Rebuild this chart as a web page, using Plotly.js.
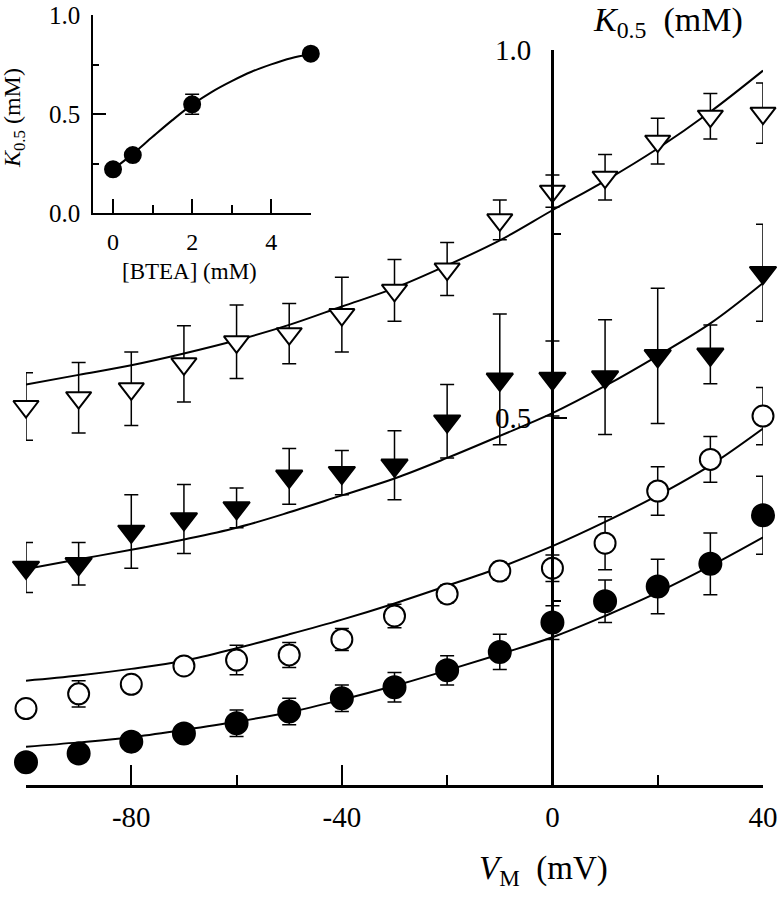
<!DOCTYPE html>
<html><head><meta charset="utf-8">
<script src="https://cdn.plot.ly/plotly-3.0.1.min.js"></script>
<style>body{margin:0;background:#fff}</style>
</head><body><div id="chart" style="width:784px;height:899px"></div>
<script>
// Main panel: K0.5 (mM) versus membrane voltage VM (mV)
const voltages = [-100,-90,-80,-70,-60,-50,-40,-30,-20,-10,0,10,20,30,40];
const openTri      = [0.515,0.527,0.539,0.573,0.603,0.614,0.640,0.673,0.702,0.769,0.808,0.827,0.876,0.910,0.914];
const openTriErr   = [0.046,0.048,0.050,0.052,0.050,0.041,0.051,0.042,0.036,0.027,0.022,0.031,0.031,0.031,0.041];
const filledTri    = [0.296,0.301,0.345,0.362,0.377,0.420,0.425,0.435,0.495,0.552,0.553,0.555,0.584,0.586,0.697];
const filledTriErr = [0.034,0.029,0.050,0.047,0.027,0.038,0.030,0.047,0.050,0.089,0.051,0.078,0.092,0.040,0.066];
const openCirc     = [0.104,0.124,0.137,0.162,0.170,0.177,0.198,0.230,0.260,0.291,0.295,0.329,0.400,0.443,0.502];
const openCircErr  = [0.010,0.018,0.010,0.010,0.020,0.017,0.015,0.016,0.012,0.012,0.018,0.036,0.033,0.031,0.039];
const filledCirc   = [0.031,0.043,0.059,0.070,0.084,0.100,0.118,0.133,0.156,0.181,0.221,0.250,0.270,0.301,0.367];
const filledCircErr= [0.012,0.012,0.012,0.012,0.018,0.018,0.018,0.020,0.020,0.024,0.023,0.029,0.037,0.042,0.053];

// fitted curves
const fitV = [-100,-90,-80,-70,-60,-50,-40,-30,-20,-10,0,10,20,30,40];
const fitOpenTri    = [0.545,0.558,0.571,0.587,0.605,0.626,0.651,0.676,0.707,0.741,0.782,0.822,0.866,0.916,0.972];
const fitFilledTri  = [0.294,0.307,0.320,0.334,0.350,0.371,0.394,0.417,0.445,0.475,0.506,0.543,0.584,0.628,0.683];
const fitOpenCirc   = [0.142,0.149,0.158,0.169,0.186,0.205,0.225,0.247,0.271,0.296,0.325,0.358,0.394,0.435,0.485];
const fitFilledCirc = [0.052,0.058,0.065,0.075,0.086,0.099,0.116,0.135,0.156,0.178,0.201,0.230,0.262,0.298,0.337];

// Inset: K0.5 versus [BTEA] (mM)
const btea     = [0,0.5,2,5];
const bteaK    = [0.222,0.294,0.550,0.805];
const bteaErr  = [0.010,0.010,0.050,0.010];
const bteaFitX = [0,0.5,1,1.5,2,2.5,3,3.5,4,4.5,5];
const bteaFitK = [0.222,0.300,0.386,0.470,0.548,0.613,0.667,0.714,0.751,0.782,0.803];

const FONT = 'Liberation Serif, Times New Roman, serif';
const W = 784, H = 899, ML = 26, MR = 20.5, MT = 10, MB = 114.3;
const PW = W - ML - MR, PH = H - MT - MB;
const px = x => (x - ML) / PW;            // pixel -> paper x
const py = y => (H - MB - y) / PH;        // pixel -> paper y

function errs(arr, w) {
  return {type:'data', array:arr, visible:true, color:'black', thickness:1.5, width:w};
}
function fitTrace(x, y, xa, ya) {
  return {x:x, y:y, xaxis:xa, yaxis:ya, mode:'lines', line:{color:'black', width:2, shape:'spline', smoothing:1}, hoverinfo:'skip', cliponaxis:false};
}
function markTrace(x, y, e, symbol, fill, size, xa, ya, w) {
  return {x:x, y:y, xaxis:xa, yaxis:ya, mode:'markers', cliponaxis:false,
    marker:{symbol:symbol, size:size, color:fill, line:{color:'black', width:2}},
    error_y: errs(e, w)};
}

const traces = [
  fitTrace(fitV, fitOpenTri, 'x', 'y'),
  fitTrace(fitV, fitFilledTri, 'x', 'y'),
  fitTrace(fitV, fitOpenCirc, 'x', 'y'),
  fitTrace(fitV, fitFilledCirc, 'x', 'y'),
  markTrace(voltages, openTri, openTriErr, 'triangle-down', 'white', 22, 'x', 'y', 7),
  markTrace(voltages, filledTri, filledTriErr, 'triangle-down', 'black', 23, 'x', 'y', 7),
  markTrace(voltages, openCirc, openCircErr, 'circle', 'white', 21, 'x', 'y', 7),
  markTrace(voltages, filledCirc, filledCircErr, 'circle', 'black', 22, 'x', 'y', 7),
  fitTrace(bteaFitX, bteaFitK, 'x2', 'y2'),
  markTrace(btea, bteaK, bteaErr, 'circle', 'black', 16, 'x2', 'y2', 7)
];

const yTop = (H - MB - 50) / PH; // 1.0 sits at pixel 50
const layout = {
  width:W, height:H,
  margin:{l:ML, r:MR, t:MT, b:MB, pad:0},
  paper_bgcolor:'white', plot_bgcolor:'rgba(0,0,0,0)',
  showlegend:false,
  font:{family:FONT, color:'black', size:28},
  xaxis:{domain:[0,1], range:[-100,40], anchor:'y', showline:true, linewidth:3, linecolor:'black',
    ticks:'inside', ticklen:20, tickwidth:2, tickcolor:'black',
    tickvals:[-80,-40,0,40], ticktext:['-80','-40','0','40'],
    showgrid:false, zeroline:false, tickfont:{size:29, family:FONT, color:'black'}, ticklabelstandoff:4,
    minor:{tickvals:[-100,-60,-20,20], ticklen:10, tickwidth:2, ticks:'inside', tickcolor:'black', showgrid:false}},
  yaxis:{domain:[0, yTop], range:[0,1], anchor:'free', position:px(552.5), side:'left',
    showline:true, linewidth:3, linecolor:'black',
    ticks:'inside', ticklen:13, tickwidth:2, tickcolor:'black',
    tickvals:[0.5,1.0], ticktext:['0.5','1.0'], tickfont:{size:29, family:FONT, color:'black'}, ticklabelstandoff:14,
    showgrid:false, zeroline:false,
    minor:{tickvals:[0.25,0.75], ticklen:7, tickwidth:2, ticks:'inside', tickcolor:'black', showgrid:false}},
  xaxis2:{domain:[px(93.3), px(311)], range:[-0.5,5], anchor:'y2', showline:true, linewidth:2, linecolor:'black',
    ticks:'inside', ticklen:14, tickwidth:2, tickcolor:'black', tickvals:[0,2,4], ticktext:['0','2','4'],
    tickfont:{size:24, family:FONT, color:'black'}, ticklabelstandoff:6, showgrid:false, zeroline:false,
    minor:{tickvals:[1,3,5], ticklen:8, tickwidth:2, ticks:'inside', tickcolor:'black', showgrid:false}},
  yaxis2:{domain:[py(213.3), py(15)], range:[0,1], anchor:'x2', showline:true, linewidth:2, linecolor:'black',
    ticks:'inside', ticklen:13, tickwidth:2, tickcolor:'black', tickvals:[0,0.5,1], ticktext:['0.0','0.5','1.0'],
    tickfont:{size:25, family:FONT, color:'black'}, ticklabelstandoff:6, showgrid:false, zeroline:false,
    minor:{tickvals:[0.25,0.75], ticklen:6, tickwidth:2, ticks:'inside', tickcolor:'black', showgrid:false}},
  annotations:[
    {xref:'paper', yref:'paper', x:px(668), y:py(22), xanchor:'center', yanchor:'middle', showarrow:false,
     text:'<i>K</i><sub>0.5</sub>  (mM)', font:{size:34, family:FONT, color:'black'}},
    {xref:'paper', yref:'paper', x:px(544), y:py(870), xanchor:'center', yanchor:'middle', showarrow:false,
     text:'<i>V</i><sub>M</sub>  (mV)', font:{size:33, family:FONT, color:'black'}},
    {xref:'paper', yref:'paper', x:px(190), y:py(271), xanchor:'center', yanchor:'middle', showarrow:false,
     text:'[BTEA] (mM)', font:{size:23, family:FONT, color:'black'}},
    {xref:'paper', yref:'paper', x:px(14), y:py(118), xanchor:'center', yanchor:'middle', showarrow:false, textangle:-90,
     text:'<i>K</i><sub>0.5</sub> (mM)', font:{size:24, family:FONT, color:'black'}}
  ]
};

Plotly.newPlot('chart', traces, layout, {displayModeBar:false, staticPlot:true});
</script>
</body></html>
